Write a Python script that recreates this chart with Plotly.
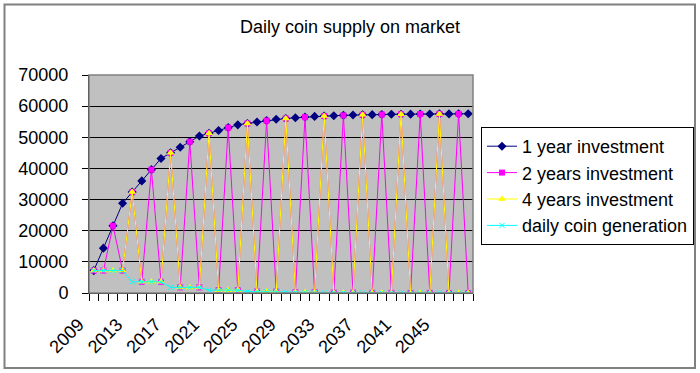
import plotly.graph_objects as go

years = [str(y) for y in range(2009, 2049)]

one_year = [7200, 14400, 21600, 28800, 32400, 36000, 39600, 43200,
            45000, 46800, 48600, 50400, 51300, 52200, 53100, 54000,
            54450, 54900, 55350, 55800, 56025, 56250, 56475, 56700,
            56813, 56925, 57038, 57150, 57206, 57263, 57319, 57375,
            57403, 57431, 57459, 57488, 57502, 57516, 57530, 57544]

two_years = [7200, 7200, 21600, 7200, 32400, 3600, 39600, 3600,
             45000, 1800, 48600, 1800, 51300, 900, 53100, 900,
             54450, 450, 55350, 450, 56025, 225, 56475, 225,
             56813, 113, 57038, 113, 57206, 56, 57319, 56,
             57403, 28, 57459, 28, 57502, 14, 57530, 14]

four_years = [7200, 7200, 7200, 7200, 32400, 3600, 3600, 3600,
              45000, 1800, 1800, 1800, 51300, 900, 900, 900,
              54450, 450, 450, 450, 56025, 225, 225, 225,
              56813, 113, 113, 113, 57206, 56, 56, 56,
              57403, 28, 28, 28, 57502, 14, 14, 14]

daily = [7200, 7200, 7200, 7200, 3600, 3600, 3600, 3600,
         1800, 1800, 1800, 1800, 900, 900, 900, 900,
         450, 450, 450, 450, 225, 225, 225, 225,
         113, 113, 113, 113, 56, 56, 56, 56,
         28, 28, 28, 28, 14, 14, 14, 14]

y_ticks = [0, 10000, 20000, 30000, 40000, 50000, 60000, 70000]
label_years = years[::4]

xs = list(range(len(years)))
FONT = "Arial, Liberation Sans, sans-serif"

fig = go.Figure()
fig.add_trace(go.Scatter(x=xs, y=one_year, name="1 year investment", mode="lines+markers",
                         line=dict(color="#000080", width=1),
                         marker=dict(symbol="diamond", size=7, color="#000080")))
fig.add_trace(go.Scatter(x=xs, y=two_years, name="2 years investment", mode="lines+markers",
                         line=dict(color="#FF00FF", width=1),
                         marker=dict(symbol="square", size=6, color="#FF00FF")))
fig.add_trace(go.Scatter(x=xs, y=four_years, name="4 years investment", mode="lines+markers",
                         line=dict(color="#FFFF00", width=1),
                         marker=dict(symbol="triangle-up", size=7, color="#FFFF00")))
fig.add_trace(go.Scatter(x=xs, y=daily, name="daily coin generation", mode="lines+markers",
                         line=dict(color="#00FFFF", width=1),
                         marker=dict(symbol="x-thin", size=5, color="#00FFFF",
                                     line=dict(color="#00FFFF", width=1))))

L, R, T, B = 89, 473, 75, 293
W, H = 700, 373
pw, ph = R - L, B - T

def px(x):
    return (x - L) / pw

def py(y):
    return (B - y) / ph

fig.update_layout(
    width=W, height=H,
    margin=dict(l=L, r=W - R, t=T, b=H - B, pad=0, autoexpand=False),
    paper_bgcolor="white",
    plot_bgcolor="#C0C0C0",
    font=dict(family=FONT, size=18, color="black"),
    title=dict(text="Daily coin supply on market", x=0.5, xanchor="center",
               y=1 - 27 / H, yanchor="middle", font=dict(size=18)),
    showlegend=True,
    legend=dict(x=px(481), y=py(127), xanchor="left", yanchor="top",
                bordercolor="black", borderwidth=1, bgcolor="white",
                font=dict(size=18), tracegroupgap=0),
    xaxis=dict(range=[-0.5, len(years) - 0.5], tickmode="array",
               tickvals=xs[::4], ticktext=label_years, ticks="",
               tickangle=-45, showgrid=False, zeroline=False,
               showline=True, linecolor="black", linewidth=1,
               minor=dict(tickmode="array", tickvals=[i - 0.5 for i in range(len(years) + 1)],
                          ticks="outside", ticklen=7, tickcolor="black", showgrid=False),
               ticklabelshift=-15, ticklabelstandoff=13),
    yaxis=dict(range=[0, 70000], tickmode="array", tickvals=y_ticks,
               ticktext=[str(v) for v in y_ticks], ticks="outside", ticklen=6,
               tickcolor="black", showgrid=True, gridcolor="black", gridwidth=1,
               zeroline=False, showline=True, linecolor="black", linewidth=1,
               ticklabelstandoff=10),
    shapes=[
        dict(type="rect", xref="paper", yref="paper", x0=0, x1=1, y0=0, y1=1,
             line=dict(color="#808080", width=1.5), layer="above"),
        dict(type="rect", xref="paper", yref="paper", x0=px(4.5), x1=px(695), y0=py(368), y1=py(4.5),
             line=dict(color="#808080", width=2), layer="above"),
    ],
)

fig.write_html("out.html", config={"displayModeBar": False},
               post_script="document.body.style.margin='0';document.body.style.padding='0';")
